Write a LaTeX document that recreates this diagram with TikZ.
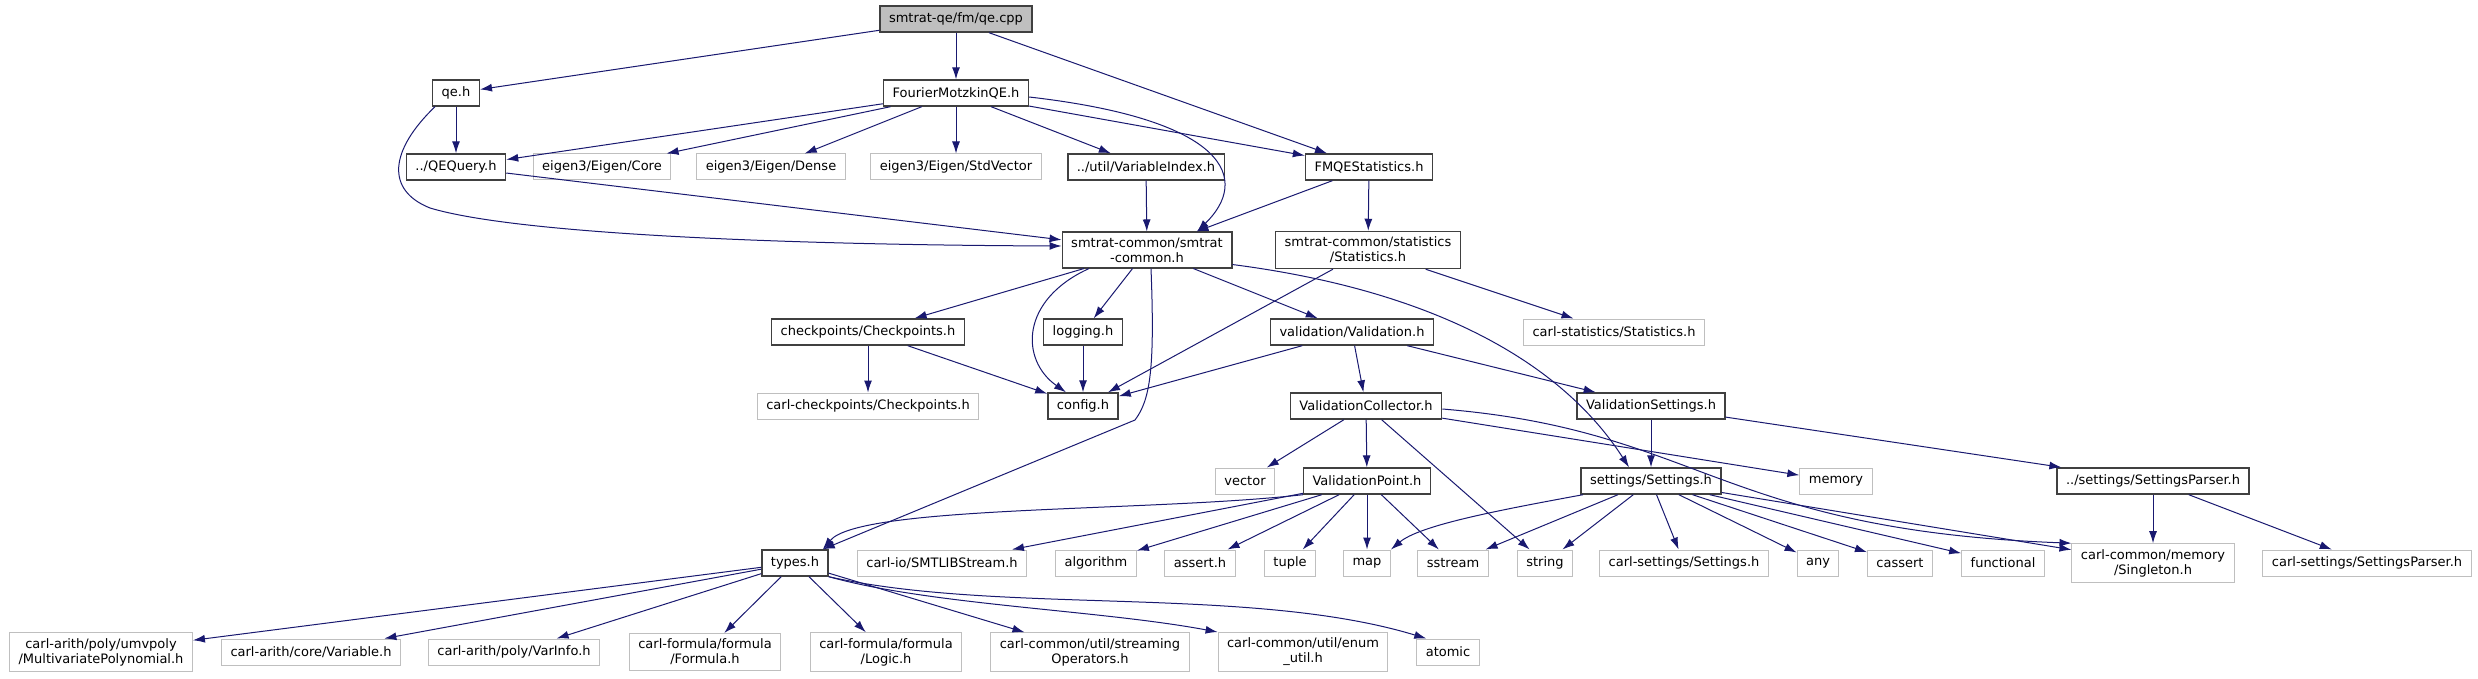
\documentclass[tikz,border=0pt]{standalone}
\usepackage{fontspec}
\setmainfont{DejaVu Sans}
\usetikzlibrary{arrows.meta}
\definecolor{edgeblue}{HTML}{191970}
\definecolor{extgray}{HTML}{BFBFBF}
\definecolor{rootgray}{HTML}{404040}

\begin{document}
\begin{tikzpicture}[x=1pt, y=-1pt, every node/.style={font=\fontsize{13}{15}\selectfont, inner xsep=9pt, inner ysep=5.5pt, minimum height=26pt, align=center, line width=1pt}, box/.style={draw=rootgray, line width=1.4pt}, ext/.style={draw=extgray}, root/.style={draw=rootgray, fill=extgray, line width=1.4pt}, dep/.style={draw=edgeblue, line width=1pt, -{Latex[length=12pt, width=8pt]}}]
	\fill[white] (0,0) rectangle (2478,679);
	\useasboundingbox (0,0) rectangle (2478,679);
	\node[root] (cpp) at (956,19) {smtrat-qe/fm/qe.cpp};
	\node[box] (qeh) at (456,93) {qe.h};
	\node[box] (fm) at (956,93) {FourierMotzkinQE.h};
	\node[box] (query) at (456,167) {../QEQuery.h};
	\node[ext] (core) at (602,167) {eigen3/Eigen/Core};
	\node[ext] (dense) at (771,167) {eigen3/Eigen/Dense};
	\node[ext] (stdvec) at (956,167) {eigen3/Eigen/StdVector};
	\node[box] (varidx) at (1146,167) {../util/VariableIndex.h};
	\node[box] (fmstat) at (1369,167) {FMQEStatistics.h};
	\node[box] (common) at (1147,250) {smtrat-common/smtrat\\-common.h};
	\node[box] (stats) at (1368,250) {smtrat-common/statistics\\/Statistics.h};
	\node[box] (ckpt) at (868,332) {checkpoints/Checkpoints.h};
	\node[box] (logging) at (1083,332) {logging.h};
	\node[box] (valid) at (1352,332) {validation/Validation.h};
	\node[ext] (carlstat) at (1614,332) {carl-statistics/Statistics.h};
	\node[ext] (carlckpt) at (868,406) {carl-checkpoints/Checkpoints.h};
	\node[box] (config) at (1083,406) {config.h};
	\node[box] (vcoll) at (1366,406) {ValidationCollector.h};
	\node[box] (vset) at (1651,406) {ValidationSettings.h};
	\node[ext] (vector) at (1245,481) {vector};
	\node[box] (vpoint) at (1367,481) {ValidationPoint.h};
	\node[box] (settings) at (1651,481) {settings/Settings.h};
	\node[ext] (memory) at (1836,481) {memory};
	\node[box] (sparser) at (2153,481) {../settings/SettingsParser.h};
	\node[box] (types) at (795,563) {types.h};
	\node[ext] (smtlib) at (942,563) {carl-io/SMTLIBStream.h};
	\node[ext] (algorithm) at (1096,563) {algorithm};
	\node[ext] (asserth) at (1200,563) {assert.h};
	\node[ext] (tuple) at (1290,563) {tuple};
	\node[ext] (map) at (1367,563) {map};
	\node[ext] (sstream) at (1453,563) {sstream};
	\node[ext] (string) at (1545,563) {string};
	\node[ext] (carlset) at (1684,563) {carl-settings/Settings.h};
	\node[ext] (any) at (1818,563) {any};
	\node[ext] (cassert) at (1900,563) {cassert};
	\node[ext] (functional) at (2003,563) {functional};
	\node[ext] (singleton) at (2153,563) {carl-common/memory\\/Singleton.h};
	\node[ext] (carlsp) at (2367,563) {carl-settings/SettingsParser.h};
	\node[ext] (umvpoly) at (101,652) {carl-arith/poly/umvpoly\\/MultivariatePolynomial.h};
	\node[ext] (variable) at (311,652) {carl-arith/core/Variable.h};
	\node[ext] (varinfo) at (514,652) {carl-arith/poly/VarInfo.h};
	\node[ext] (formula) at (705,652) {carl-formula/formula\\/Formula.h};
	\node[ext] (logic) at (886,652) {carl-formula/formula\\/Logic.h};
	\node[ext] (streaming) at (1090,652) {carl-common/util/streaming\\Operators.h};
	\node[ext] (enumutil) at (1303,652) {carl-common/util/enum\\\_util.h};
	\node[ext] (atomic) at (1448,652) {atomic};
	\foreach \a/\b in {cpp/qeh, cpp/fm, qeh/query, fm/query, fm/core, fm/dense, fm/stdvec, fm/varidx, fm/fmstat, query/common, varidx/common, fmstat/common, fmstat/stats, common/ckpt, common/logging, common/valid, stats/config, stats/carlstat, ckpt/config, ckpt/carlckpt, logging/config, valid/config, valid/vcoll, valid/vset, vcoll/vector, vcoll/vpoint, vcoll/string, vcoll/memory, vset/settings, vset/sparser, sparser/singleton, sparser/carlsp, vpoint/smtlib, vpoint/algorithm, vpoint/asserth, vpoint/tuple, vpoint/map, vpoint/sstream, settings/sstream, settings/string, settings/carlset, settings/any, settings/cassert, settings/functional, settings/singleton, types/umvpoly, types/variable, types/varinfo, types/formula, types/logic, types/streaming}
		\draw[dep] (\a) -- (\b);
	\draw[dep] ([xshift=33pt]cpp.south) -- ([xshift=-42pt]fmstat.north);
	\draw[dep] ([xshift=3pt]qeh.south west) .. controls (390,150) and (385,190) .. (430,208) .. controls (520,235) and (800,245) .. ([yshift=4pt]common.west);
	\draw[dep] ([yshift=-4pt]fm.east) .. controls (1230,120) and (1250,180) .. ([xshift=50pt]common.north);
	\draw[dep] ([xshift=-58pt]common.south) .. controls (1020,300) and (1020,360) .. ([xshift=-17pt]config.north);
	\draw[dep] ([xshift=4pt]common.south) .. controls (1155,370) and (1150,400) .. (1135,420) -- ([xshift=-6pt]types.north east);
	\draw[dep] ([yshift=4pt]common.south east) .. controls (1430,290) and (1560,360) .. ([xshift=-22pt]settings.north);
	\draw[dep] ([yshift=-3pt]vcoll.east) .. controls (1700,430) and (1720,530) .. (singleton.north west);
	\draw[dep] (vpoint.south west) .. controls (1150,512) and (860,505) .. ([xshift=-6pt]types.north east);
	\draw[dep] ([xshift=-68pt]settings.south) .. controls (1500,510) and (1420,525) .. (map.north east);
	\draw[dep] (types.south east) .. controls (930,605) and (1100,610) .. (enumutil.north west);
	\draw[dep] (types.south east) .. controls (1000,615) and (1250,585) .. ([xshift=10pt]atomic.north west);
\end{tikzpicture}
\end{document}
